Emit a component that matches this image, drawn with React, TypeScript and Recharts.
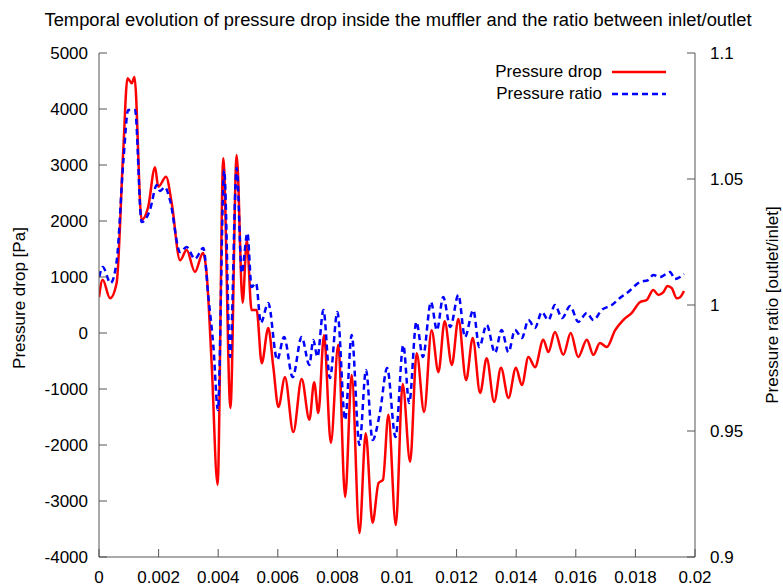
import { Legend, Line, LineChart, XAxis, YAxis } from 'recharts';

// Pressure drop [Pa] over time [s]
const timeDrop = [
  0, 0.000124, 0.00037, 0.00059, 0.000815, 0.000956, 0.0011, 0.00119, 0.00143, 0.00165,
  0.00188, 0.00199, 0.00225, 0.00244, 0.00272, 0.00294, 0.00322, 0.00349, 0.00361, 0.00378,
  0.00398, 0.00417, 0.00441, 0.00462, 0.00482, 0.00496, 0.00512, 0.00529, 0.00546, 0.00568,
  0.00585, 0.00602, 0.00624, 0.00652, 0.0068, 0.00706, 0.00722, 0.00736, 0.00755, 0.00778,
  0.00803, 0.00826, 0.00848, 0.00874, 0.00895, 0.00918, 0.00938, 0.00953, 0.00971, 0.00996,
  0.01019, 0.01044, 0.01066, 0.01091, 0.01116, 0.01139, 0.0116, 0.01184, 0.01206, 0.01232,
  0.01254, 0.01279, 0.01301, 0.01326, 0.01349, 0.01374, 0.01399, 0.01419, 0.01441, 0.01463,
  0.01491, 0.01508, 0.0153, 0.01558, 0.01583, 0.01608, 0.01637, 0.01659, 0.01681, 0.01704,
  0.01732, 0.01759, 0.01788, 0.01815, 0.01838, 0.0186, 0.01877, 0.01894, 0.01908, 0.01922,
  0.01939, 0.0195, 0.01963,
];
const pressureDrop = [
  640, 950, 620, 890, 3270, 4550, 4460, 4570, 2020, 2250,
  2960, 2610, 2790, 2320, 1300, 1480, 1090, 1430, 1070, -540,
  -2710, 3120, -1340, 3180, 540, 1660, 410, 410, -540, 90,
  -610, -1320, -790, -1770, -820, -1550, -880, -1430, -40, -1960,
  -210, -2930, -750, -3570, -1790, -3390, -2680, -2620, -1460, -3430,
  -910, -2300, -360, -1410, 50, -700, 210, -570, 250, -840,
  -90, -1070, -450, -1230, -620, -1160, -620, -930, -430, -610,
  -120, -340, 20, -390, 0, -430, -120, -390, -180, -250,
  50, 230, 360, 550, 590, 770, 680, 730, 840, 800,
  620, 640, 750,
];

// Pressure ratio outlet/inlet over time [s]
const timeRatio = [
  0.00001, 0.000124, 0.00039, 0.00059, 0.00082, 0.00098, 0.00121, 0.00143, 0.00171, 0.00194,
  0.00205, 0.00221, 0.00238, 0.00272, 0.00294, 0.00322, 0.0035, 0.00367, 0.00384, 0.00399,
  0.0042, 0.0044, 0.00462, 0.00479, 0.00498, 0.00512, 0.00527, 0.00543, 0.00568, 0.00598,
  0.00621, 0.0065, 0.0068, 0.00706, 0.00719, 0.00733, 0.00753, 0.00775, 0.008, 0.00826,
  0.00848, 0.00874, 0.00896, 0.00918, 0.00943, 0.00967, 0.00995, 0.01021, 0.01041, 0.01065,
  0.01087, 0.01114, 0.01134, 0.01155, 0.01179, 0.01206, 0.01228, 0.01256, 0.01276, 0.01301,
  0.01329, 0.01351, 0.01374, 0.01396, 0.01419, 0.01441, 0.01463, 0.01486, 0.01508, 0.0153,
  0.01554, 0.01581, 0.01608, 0.01637, 0.01659, 0.01687, 0.01721, 0.01748, 0.01776, 0.01815,
  0.01843, 0.0186, 0.01883, 0.01916, 0.01933, 0.0195, 0.01963,
];
const pressureRatio = [
  1.0111, 1.0151, 1.0087, 1.0171, 1.0575, 1.0774, 1.0774, 1.0329, 1.0377, 1.0476,
  1.0452, 1.0468, 1.0417, 1.021, 1.023, 1.0183, 1.0226, 1.0032, 0.9833, 0.9583,
  1.0536, 0.9794, 1.0544, 1.0127, 1.0286, 1.0071, 1.0087, 0.9929, 1.0008, 0.9782,
  0.9873, 0.9714, 0.9873, 0.9762, 0.9861, 0.9794, 0.998, 0.971, 0.9972, 0.9544,
  0.9881, 0.9444, 0.9742, 0.9464, 0.9575, 0.975, 0.9476, 0.9841, 0.9611, 0.9933,
  0.9794, 1.0012, 0.99, 1.0032, 0.9913, 1.004, 0.9873, 0.998, 0.9833, 0.9921,
  0.981, 0.9901, 0.9813, 0.9901, 0.9869, 0.994, 0.9909, 0.9972, 0.994, 1.0,
  0.9948, 0.9996, 0.9933, 0.9968, 0.994, 0.998, 1.0, 1.0028, 1.0052, 1.0091,
  1.0099, 1.0119, 1.0111, 1.0131, 1.0103, 1.0111, 1.0123,
];

const timeTicks = [0, 0.002, 0.004, 0.006, 0.008, 0.01, 0.012, 0.014, 0.016, 0.018, 0.02];
const dropTicks = [-4000, -3000, -2000, -1000, 0, 1000, 2000, 3000, 4000, 5000];
const ratioTicks = [0.9, 0.95, 1, 1.05, 1.1];

const dropData = timeDrop.map((t, i) => ({ t, p: pressureDrop[i] }));
const ratioData = timeRatio.map((t, i) => ({ t, r: pressureRatio[i] }));

const FONT = '"Liberation Sans", Arial, sans-serif';
const AXIS = '#555';
const tickText = { fill: '#000', fontSize: 17, fontFamily: FONT };

function KeyBox() {
  const rows = [
    { name: 'Pressure drop', color: '#ff0000', dash: undefined },
    { name: 'Pressure ratio', color: '#0000ff', dash: '6 4' },
  ];
  return (
    <div style={{ fontFamily: FONT, fontSize: 17, color: '#000' }}>
      {rows.map((r) => (
        <div key={r.name} style={{ display: 'flex', alignItems: 'center', justifyContent: 'flex-end', height: 22 }}>
          <span>{r.name}</span>
          <svg width={64} height={10} style={{ marginLeft: 10 }}>
            <line x1={0} y1={5} x2={54} y2={5} stroke={r.color} strokeWidth={2.5} strokeDasharray={r.dash} />
          </svg>
        </div>
      ))}
    </div>
  );
}

export default function App() {
  return (
    <div style={{ position: 'absolute', left: 0, top: 0, width: 783, height: 586, background: '#fff' }}>
      <LineChart
        width={783}
        height={586}
        margin={{ top: 53, right: 0, bottom: 0, left: 0 }}
      >
        <XAxis
          xAxisId="bottom"
          dataKey="t"
          type="number"
          domain={[0, 0.02]}
          ticks={timeTicks}
          allowDataOverflow
          height={29}
          stroke={AXIS}
          tickSize={-8}
          tickMargin={22}
          tick={tickText}
        />
        <XAxis
          xAxisId="top"
          orientation="top"
          dataKey="t"
          type="number"
          domain={[0, 0.02]}
          ticks={timeTicks}
          height={0}
          stroke={AXIS}
          tickSize={-8}
          tick={false}
        />
        <YAxis
          yAxisId="left"
          domain={[-4000, 5000]}
          ticks={dropTicks}
          width={99}
          stroke={AXIS}
          tickSize={-8}
          tickMargin={19}
          tick={tickText}
        />
        <YAxis
          yAxisId="right"
          orientation="right"
          domain={[0.9, 1.1]}
          ticks={ratioTicks}
          width={88}
          stroke={AXIS}
          tickSize={-8}
          tickMargin={23}
          tick={{ ...tickText, textAnchor: 'start' }}
        />
        {/* vertical + center so the key takes no room from the plot */}
        <Legend
          layout="vertical"
          align="center"
          verticalAlign="middle"
          content={() => <KeyBox />}
          wrapperStyle={{ position: 'absolute', top: 61, left: 420, width: 256 }}
        />
        <Line
          xAxisId="bottom"
          yAxisId="left"
          data={dropData}
          dataKey="p"
          name="Pressure drop"
          type="monotone"
          stroke="#ff0000"
          strokeWidth={2.5}
          dot={false}
          isAnimationActive={false}
        />
        <Line
          xAxisId="bottom"
          yAxisId="right"
          data={ratioData}
          dataKey="r"
          name="Pressure ratio"
          type="monotone"
          stroke="#0000ff"
          strokeWidth={2.5}
          strokeDasharray="6 4"
          dot={false}
          isAnimationActive={false}
        />
      </LineChart>
      <svg
        width={783}
        height={586}
        style={{ position: 'absolute', left: 0, top: 0, pointerEvents: 'none' }}
        fontFamily={FONT}
      >
        <text
          x={398}
          y={26}
          textAnchor="middle"
          fontSize={18}
          textLength={707}
          lengthAdjust="spacingAndGlyphs"
          fill="#000"
        >
          Temporal evolution of pressure drop inside the muffler and the ratio between inlet/outlet
        </text>
        <text transform="translate(25,298) rotate(-90)" textAnchor="middle" fontSize={17} fill="#000">
          Pressure drop [Pa]
        </text>
        <text transform="translate(778,305) rotate(-90)" textAnchor="middle" fontSize={17} fill="#000">
          Pressure ratio [outlet/inlet]
        </text>
      </svg>
    </div>
  );
}
